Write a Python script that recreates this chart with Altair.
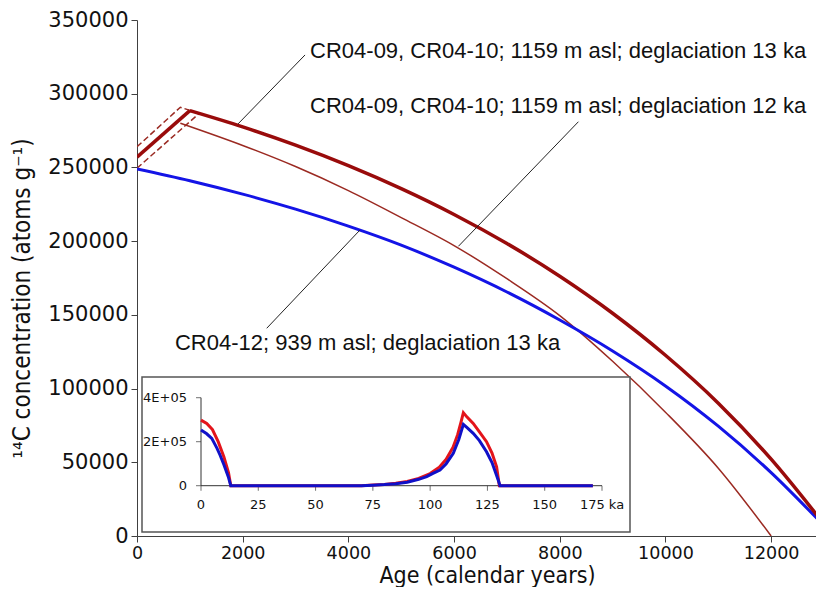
import altair as alt
import pandas as pd

# ---------------- main chart data (age in calendar years, 14C atoms/g) ----------------
rise_13_age = [0, 1000]
rise_13_conc = [257000, 288500]
age_13 = [1000, 2000, 3000, 4000, 5000, 6000, 7000, 8000, 9000, 10000, 11000, 12000, 13000]
conc_13 = [288500, 277500, 265100, 251200, 235600, 218100, 198400, 176200, 151100, 122600, 90100, 52100, 8100]

age_12 = [820, 2000, 3000, 4000, 5000, 6000, 7000, 8000, 9000, 10000, 11000, 12000]
conc_12 = [280000, 264900, 250600, 234300, 216000, 197000, 174500, 149500, 118500, 84000, 46000, 0]

age_939 = [0, 1000, 2000, 3000, 4000, 5000, 6000, 7000, 8000, 9000, 10000, 11000, 12000, 13000]
conc_939 = [249000, 241000, 231900, 221700, 210200, 197300, 182300, 165500, 146500, 125500, 101800, 74500, 43000, 7000]

dash_up_age = [0, 820, 1040]
dash_up_conc = [264000, 290800, 288300]
dash_lo_age = [0, 1176]
dash_lo_conc = [249500, 286600]

x_ticks = [0, 2000, 4000, 6000, 8000, 10000, 12000]
y_ticks = [0, 50000, 100000, 150000, 200000, 250000, 300000, 350000]

# annotations (data coordinates)
lead_x1 = [3180, 8353, 2455]
lead_y1 = [326300, 281000, 140900]
lead_x2 = [1912, 6082, 4221]
lead_y2 = [279500, 196500, 207600]

lab_left = ["CR04-09, CR04-10; 1159 m asl; deglaciation 13 ka",
            "CR04-09, CR04-10; 1159 m asl; deglaciation 12 ka"]
lab_left_x = [3275, 3275]
lab_left_y = [324000, 286700]
lab_right = ["CR04-12; 939 m asl; deglaciation 13 ka"]
lab_right_x = [8007]
lab_right_y = [126200]

# ---------------- inset data (ka) ----------------
inset_ka_red = [0, 2.5, 5, 7.5, 10, 12, 13, 70, 75, 80, 85, 90, 95, 100, 104, 107, 110, 112, 113.5, 114.5,
                116, 118.8, 121.5, 124.6, 127, 129, 130.2, 171]
inset_red = [298000, 283000, 255000, 200000, 130000, 60000, 0, 0, 3000, 6000, 11000, 19000, 33000, 55000,
             84000, 120000, 175000, 232000, 290000, 332000, 313000, 283000, 245000, 200000, 148000, 86000, 0, 0]
inset_ka_blue = [0, 2.5, 4.7, 7, 8.3, 10, 11.9, 13, 70, 75, 80, 85, 90, 95, 98.5, 101, 104.3, 107, 110.1,
                 112.5, 114.5, 116, 118.8, 121.5, 124.6, 127, 129.7, 130.5, 171]
inset_blue = [253000, 236000, 215000, 170000, 139500, 95000, 41000, 0, 0, 2500, 5000, 9000, 16000, 29000,
              41000, 55000, 71400, 100000, 147000, 210000, 279000, 265000, 238000, 205000, 154500, 105000,
              26000, 0, 0]
inset_xticks = [0, 25, 50, 75, 100, 125, 150, 175]
inset_xlabels = ["0", "25", "50", "75", "100", "125", "150", "175 ka"]
inset_yticks = [0, 200000, 400000]
inset_ylabels = ["0", "2E+05", "4E+05"]

# ---------------- styling ----------------
TICK_FONT = "DejaVu Sans"
TITLE_FONT = "DejaVu Sans Condensed, DejaVu Sans"
ANN_FONT = "Liberation Sans, Arial"
AX = "#404040"

xaxis = alt.Axis(values=x_ticks, format="d", title="Age (calendar years)", grid=False,
                 labelFont=TICK_FONT, labelFontSize=17.5, labelColor="#111", labelPadding=2,
                 labelFlush=False, tickSize=6, tickColor=AX, domainColor=AX,
                 titleFont=TITLE_FONT, titleFontSize=23, titleFontWeight="normal", titleColor="#111",
                 titleX=350, titleY=46, titleAlign="center", titleBaseline="alphabetic")
yaxis = alt.Axis(values=y_ticks, format="d", title="\u00b9\u2074C concentration (atoms g\u207b\u00b9)",
                 grid=False, labelFont=TICK_FONT, labelFontSize=21, labelColor="#111", labelPadding=3,
                 tickSize=6, tickColor=AX, domainColor=AX,
                 titleFont=TITLE_FONT, titleFontSize=24, titleFontWeight="normal", titleColor="#111",
                 titleAngle=270, titleX=-115, titleY=278, titleAlign="center", titleBaseline="middle")

XS = alt.Scale(domain=[0, 12849], nice=False, zero=False)
YS = alt.Scale(domain=[0, 350000], nice=False)


def xenc(f):
    return alt.X(f, type="quantitative", scale=XS, axis=xaxis)


def yenc(f):
    return alt.Y(f, type="quantitative", scale=YS, axis=yaxis)


def line(ages, concs, color, width, dash=None, interp="linear"):
    df = pd.DataFrame({"age": ages, "conc": concs})
    kw = dict(color=color, strokeWidth=width, clip=True, interpolate=interp)
    if dash:
        kw["strokeDash"] = dash
    return alt.Chart(df).mark_line(**kw).encode(x=xenc("age"), y=yenc("conc"))


leaders = alt.Chart(pd.DataFrame({"x1": lead_x1, "y1": lead_y1, "x2": lead_x2, "y2": lead_y2})).mark_rule(
    color="#222", strokeWidth=1).encode(x=xenc("x1"), y=yenc("y1"), x2="x2", y2="y2")

txt_left = alt.Chart(pd.DataFrame({"x": lab_left_x, "y": lab_left_y, "t": lab_left})).mark_text(
    align="left", baseline="alphabetic", font=ANN_FONT, fontSize=22, color="#111").encode(
    x=xenc("x"), y=yenc("y"), text="t")
txt_right = alt.Chart(pd.DataFrame({"x": lab_right_x, "y": lab_right_y, "t": lab_right})).mark_text(
    align="right", baseline="alphabetic", font=ANN_FONT, fontSize=22, color="#111").encode(
    x=xenc("x"), y=yenc("y"), text="t")

main = alt.layer(
    line(dash_up_age, dash_up_conc, "#9a2a22", 1.5, [6, 3]),
    line(dash_lo_age, dash_lo_conc, "#9a2a22", 1.5, [6, 3]),
    line(age_12, conc_12, "#9b2a22", 1.5, interp="monotone"),
    line(age_939, conc_939, "#1414e6", 3, interp="monotone"),
    line(rise_13_age, rise_13_conc, "#990b0b", 3.5),
    line(age_13, conc_13, "#990b0b", 3.5, interp="monotone"),
    leaders, txt_left, txt_right,
)

# ---------------- inset ----------------
IX = alt.Scale(domain=[0, 175], range=[64, 465], nice=False, zero=False)
IY = alt.Scale(domain=[0, 400000], range=[465.7, 377.7], nice=False)


def ix(f):
    return alt.X(f, type="quantitative", scale=IX, axis=None)


def iy(f):
    return alt.Y(f, type="quantitative", scale=IY, axis=None)


box = alt.Chart(pd.DataFrame({"a": [0]})).mark_rect(fill="white", stroke="#555", strokeWidth=1.5).encode(
    x=alt.value(5), x2=alt.value(493), y=alt.value(357), y2=alt.value(512))

ax_df = pd.DataFrame({"x0": [0], "x1": [175], "y0": [0], "y1": [400000]})
ix_line = alt.Chart(ax_df).mark_rule(color="#333", strokeWidth=1).encode(x=ix("x0"), x2="x1", y=iy("y0"))
iy_line = alt.Chart(ax_df).mark_rule(color="#333", strokeWidth=1).encode(x=ix("x0"), y=iy("y0"), y2="y1")

ixt_df = pd.DataFrame({"k": inset_xticks, "z": [0] * len(inset_xticks), "t": inset_xlabels})
iyt_df = pd.DataFrame({"v": inset_yticks, "z": [0] * len(inset_yticks), "t": inset_ylabels})
ix_ticks = alt.Chart(ixt_df).mark_tick(orient="vertical", size=5, thickness=1, color="#333", yOffset=2.5).encode(
    x=ix("k"), y=iy("z"))
iy_ticks = alt.Chart(iyt_df).mark_tick(orient="horizontal", size=5, thickness=1, color="#333", xOffset=-2.5).encode(
    x=ix("z"), y=iy("v"))
ix_labels = alt.Chart(ixt_df).mark_text(baseline="top", dy=13, font=TICK_FONT, fontSize=13, color="#111").encode(
    x=ix("k"), y=iy("z"), text="t")
iy_labels = alt.Chart(iyt_df).mark_text(align="right", baseline="middle", dx=-14, font=TICK_FONT, fontSize=13,
                                        color="#111").encode(x=ix("z"), y=iy("v"), text="t")

red_in = alt.Chart(pd.DataFrame({"ka": inset_ka_red, "c": inset_red})).mark_line(
    color="#e3141b", strokeWidth=3).encode(x=ix("ka"), y=iy("c"))
blue_in = alt.Chart(pd.DataFrame({"ka": inset_ka_blue, "c": inset_blue})).mark_line(
    color="#1010c8", strokeWidth=3).encode(x=ix("ka"), y=iy("c"))

inset = alt.layer(box, ix_line, iy_line, ix_ticks, iy_ticks, ix_labels, iy_labels, red_in, blue_in)

chart = alt.layer(main, inset).resolve_scale(x="independent", y="independent").properties(
    width=679, height=516,
    autosize=alt.AutoSizeParams(type="none"),
    padding={"left": 129, "top": 12, "right": 0, "bottom": 51},
    background="white",
).configure_view(stroke=None)

chart.save("out.html", embed_options={"renderer": "svg", "actions": False})
